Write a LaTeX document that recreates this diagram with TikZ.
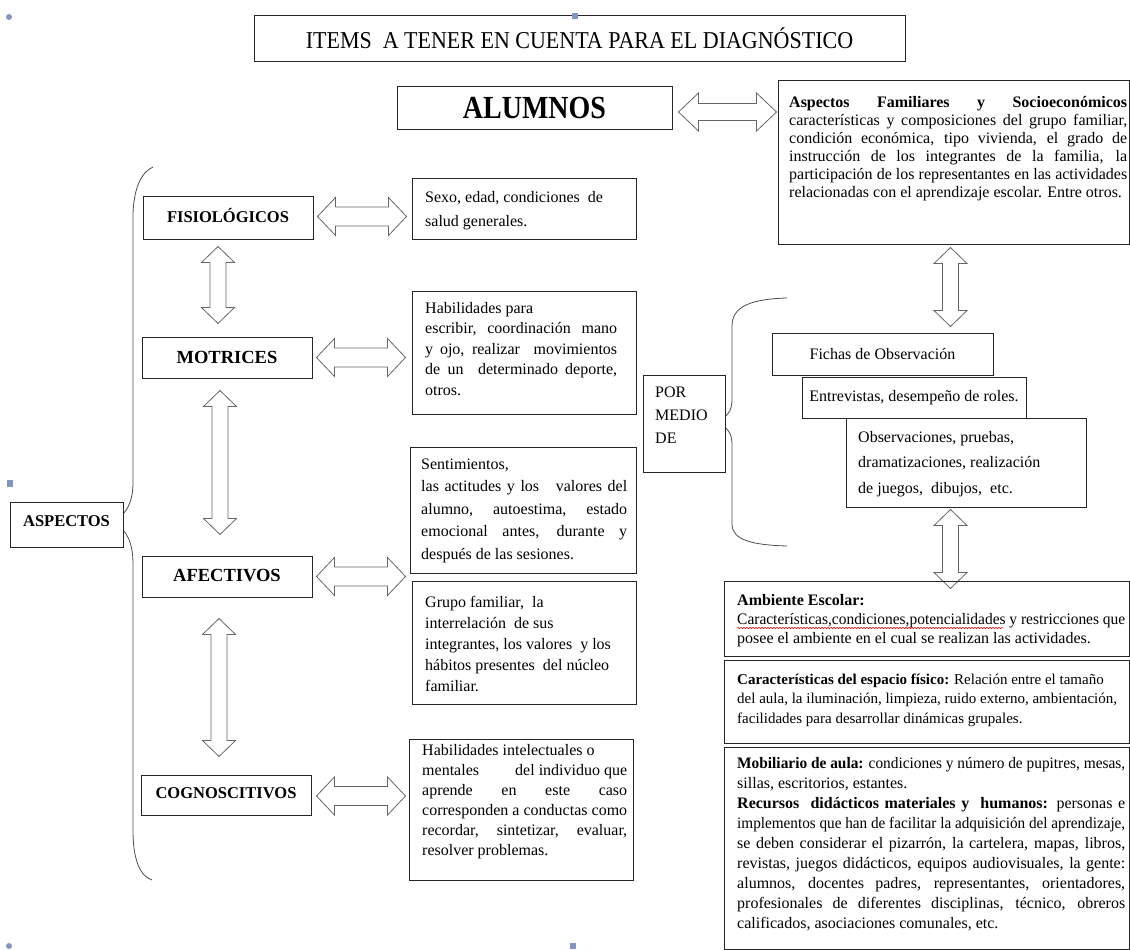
\documentclass[tikz,border=0pt]{standalone}
\usepackage{fontspec}
\setmainfont{Liberation Serif}
\usepackage{graphicx}
\usetikzlibrary{calc,decorations.pathmorphing}
\definecolor{handle}{RGB}{128,150,190}
\newsavebox\jlbox
\newcommand\nsp{\spaceskip=0pt\xspaceskip=0pt\relax}
\newcommand\jl[1]{\leavevmode\sbox\jlbox{\nsp#1}\ifdim\wd\jlbox>\hsize\resizebox{\hsize}{\height}{\usebox\jlbox}\else\makebox[\hsize][s]{\nsp#1}\fi}
\newcommand\fitline[1]{\leavevmode\sbox\jlbox{\nsp#1}\ifdim\wd\jlbox>\hsize\resizebox{\hsize}{\height}{\usebox\jlbox}\else\usebox\jlbox\fi}

\begin{document}
\begin{tikzpicture}[x=1pt,y=-1pt,
    box/.style={draw=black!85,line width=1pt,fill=white,inner sep=0pt},
    tag/.style={box,font=\bfseries\fontsize{#1}{#1}\selectfont},
    para/.style args={#1/#2}{anchor=base west,align=left,inner sep=0pt,font=\fontsize{#1}{#2}\selectfont},
    brace/.style={draw=black!70,line width=0.8pt},
    fat/.style n args={3}{draw=black!60,line width=0.8pt,fill=white,to path={(\tikztostart)
        -- ($(\tikztostart)!#1!(\tikztotarget)!#2!90:(\tikztotarget)$)
        -- ($(\tikztostart)!#1!(\tikztotarget)!#3!90:(\tikztotarget)$)
        -- ($(\tikztotarget)!#1!(\tikztostart)!#3!-90:(\tikztostart)$)
        -- ($(\tikztotarget)!#1!(\tikztostart)!#2!-90:(\tikztostart)$)
        -- (\tikztotarget)
        -- ($(\tikztotarget)!#1!(\tikztostart)!#2!90:(\tikztostart)$)
        -- ($(\tikztotarget)!#1!(\tikztostart)!#3!90:(\tikztostart)$)
        -- ($(\tikztostart)!#1!(\tikztotarget)!#3!-90:(\tikztotarget)$)
        -- ($(\tikztostart)!#1!(\tikztotarget)!#2!-90:(\tikztotarget)$)
        -- cycle}},
    fatH/.style={fat={18pt}{19pt}{9.5pt}},
    fatV/.style={fat={16pt}{16.5pt}{8pt}}]
    \useasboundingbox (0,0) rectangle (1130,950);

    \fill[handle] (9,17) circle (3pt);
    \fill[handle] (7,480) rectangle (13,487);
    \fill[handle] (9,946) circle (3pt);
    \fill[handle] (570,943) rectangle (576,949);

    \draw[brace] (153,167) .. controls (141,172) and (133,190) .. (133,217) -- (133,482)
        .. controls (133,502) and (127,514) .. (113,522) .. controls (127,530) and (133,542) .. (133,565)
        -- (133,830) .. controls (133,860) and (140,876) .. (152,880);
    \draw[brace] (787,298) .. controls (752,299) and (732,306) .. (732,326) -- (732,400)
        .. controls (732,410) and (728,417) .. (716,422) .. controls (728,427) and (732,434) .. (732,444)
        -- (732,524) .. controls (732,540) and (752,545) .. (787,546);

    \node[box,minimum width=651pt,minimum height=46pt,font=\fontsize{22}{22}\selectfont] (title) at (579.5,39) {\raisebox{2pt}{\scalebox{1}[1.1]{ITEMS\ \ A TENER EN CUENTA PARA EL DIAGNÓSTICO}}};
    \fill[handle] (572,13) rectangle (578,19);
    \node[box,minimum width=275pt,minimum height=42pt,font=\bfseries\fontsize{28}{28}\selectfont] (alumnos) at (534.5,108) {\raisebox{-4pt}{\scalebox{1}[1.15]{ALUMNOS}}};
    \node[box,minimum width=351pt,minimum height=163pt] (fam) at (953.5,162.5) {};
    \node[para=16/18,text width=338pt] (famtxt) at (789,107) {\nsp\jl{\textbf{Aspectos Familiares y Socioeconómicos}}\\
        \jl{características y composiciones del grupo familiar,}\\
        \jl{condición económica, tipo vivienda, el grado de}\\
        \jl{instrucción de los integrantes de la familia, la}\\
        \jl{participación de los representantes en las actividades}\\
        \fitline{relacionadas con el aprendizaje escolar. Entre otros.}};

    \node[tag=16.5,minimum width=113pt,minimum height=45pt] (aspectos) at (66.5,524.5) {\raisebox{6pt}{ASPECTOS}};
    \node[tag=16.5,minimum width=170pt,minimum height=43pt] (fisio) at (228,217.5) {\raisebox{4pt}{FISIOLÓGICOS}};
    \node[tag=18.5,minimum width=170pt,minimum height=41pt] (motr) at (227,357.5) {\raisebox{1pt}{MOTRICES}};
    \node[tag=18.5,minimum width=170pt,minimum height=41pt] (afec) at (227,576.5) {\raisebox{2pt}{AFECTIVOS}};
    \node[tag=16.5,minimum width=170pt,minimum height=40pt] (cogn) at (226,795) {\raisebox{3pt}{COGNOSCITIVOS}};

    \node[box,minimum width=224pt,minimum height=61pt] (sexo) at (524,208.5) {};
    \node[para=16/24,text width=205pt] (sexotxt) at (425,202) {\nsp Sexo, edad, condiciones\ \ de\\ salud generales.};
    \node[box,minimum width=224pt,minimum height=123pt] (habil) at (524,352.5) {};
    \node[para=16/20.5,text width=192pt] (habiltxt) at (425,313) {\nsp Habilidades para\\
        \jl{escribir,\ \ coordinación\ \ mano}\\
        \jl{y ojo, realizar\ \ movimientos}\\
        \jl{de un\ \ determinado deporte,}\\
        otros.};
    \node[box,minimum width=226pt,minimum height=126pt] (senti) at (523,510) {};
    \node[para=16/22.5,text width=206pt] (sentitxt) at (421,469) {\nsp Sentimientos,\\
        \jl{las actitudes y los\ \ \ valores del}\\
        \jl{alumno, autoestima, estado}\\
        \jl{emocional antes, durante y}\\
        después de las sesiones.};
    \node[box,minimum width=224pt,minimum height=123pt] (grupo) at (524,642.5) {};
    \node[para=16/21,text width=205pt] (grupotxt) at (425,607) {\nsp Grupo familiar,\ \ la\\
        interrelación\ \ de sus\\
        \fitline{integrantes, los valores\ \ y los}\\
        \fitline{hábitos presentes\ \ del núcleo}\\
        familiar.};
    \node[box,minimum width=224pt,minimum height=141pt] (habint) at (521,809.5) {};
    \node[para=16/20,text width=205pt] (habinttxt) at (422,755) {\nsp Habilidades intelectuales o\\
        \jl{mentales\hfill del individuo que}\\
        \jl{aprende en este caso}\\
        \jl{corresponden a conductas como}\\
        \jl{recordar, sintetizar, evaluar,}\\
        resolver problemas.};

    \node[box,minimum width=82pt,minimum height=97pt] (por) at (684,423.5) {};
    \node[para=16/23,text width=65pt] (portxt) at (655,397) {POR\\ MEDIO\\ DE};
    \node[box,minimum width=221pt,minimum height=42pt,font=\fontsize{16}{19}\selectfont] (fichas) at (882.5,354) {Fichas de Observación};
    \node[box,minimum width=224pt,minimum height=41pt,font=\fontsize{16}{19}\selectfont] (entrev) at (914,397.5) {Entrevistas, desempeño de roles.};
    \node[box,minimum width=240pt,minimum height=89pt] (obs) at (966,462.5) {};
    \node[para=16/25.5,text width=220pt] (obstxt) at (858,442) {\nsp Observaciones, pruebas,\\ dramatizaciones, realización\\ de juegos,\ \ dibujos,\ \ etc.};

    \node[box,minimum width=405pt,minimum height=83pt] (esp) at (926.5,701.5) {};
    \node[para=15/19.5,text width=388pt] (esptxt) at (737,684) {\fitline{\textbf{Características del espacio físico:} Relación entre el tamaño}\\
        \fitline{del aula, la iluminación, limpieza, ruido externo, ambientación,}\\
        \fitline{facilidades para desarrollar dinámicas grupales.}};
    \node[box,minimum width=405pt,minimum height=202pt] (mob) at (926.5,848) {};
    \node[para=16/20,text width=388pt] (mobtxt) at (737,768) {\nsp\jl{\textbf{Mobiliario de aula:} condiciones y número de pupitres, mesas,}\\
        sillas, escritorios, estantes.\\
        \jl{\textbf{Recursos\ \ didácticos materiales y\ \ humanos:} personas e}\\
        \jl{implementos que han de facilitar la adquisición del aprendizaje,}\\
        \jl{se deben considerar el pizarrón, la cartelera, mapas, libros,}\\
        \jl{revistas, juegos didácticos, equipos audiovisuales, la gente:}\\
        \jl{alumnos, docentes padres, representantes, orientadores,}\\
        \jl{profesionales de diferentes disciplinas, técnico, obreros}\\
        \fitline{calificados, asociaciones comunales, etc.}};

    \coordinate (la) at ($(alumnos.east)+(6,4)$);
    \coordinate (lb) at ($(alumnos.east -| fam.west)+(-1,4)$);
    \coordinate (fa) at ($(fisio.east)+(4,-1)$);
    \coordinate (fb) at ($(fisio.east -| sexo.west)+(-5,-1)$);
    \coordinate (ma) at ($(motr.east)+(4,0)$);
    \coordinate (mb) at ($(motr.east -| habil.west)+(-6,0)$);
    \coordinate (aa) at ($(afec.east)+(4,0)$);
    \coordinate (ab) at ($(afec.east -| senti.west)+(-4,0)$);
    \coordinate (ca) at ($(cogn.east)+(5,1)$);
    \coordinate (cb) at ($(cogn.east -| habint.west)+(-3,1)$);
    \coordinate (v1a) at ($(fisio.south)+(-10,7)$);
    \coordinate (v1b) at ($(motr.north)+(-9,-13)$);
    \coordinate (v2a) at ($(motr.south)+(-7,12)$);
    \coordinate (v2b) at ($(afec.north)+(-7,-21)$);
    \coordinate (v3a) at ($(afec.south)+(-8,21)$);
    \coordinate (v3b) at ($(cogn.north)+(-7,-18)$);
    \coordinate (v4a) at ($(fam.south)+(-3,3)$);
    \coordinate (v4b) at ($(v4a |- fichas.north)+(0,-6)$);
    \coordinate (v5a) at ($(v4a |- obs.south)+(0,2)$);
    \coordinate (v5b) at ($(v5a)+(0,79)$);

    \draw[fat={20pt}{19pt}{8.5pt}] (la) to (lb);
    \draw[fatH] (fa) to (fb);
    \draw[fatH] (ma) to (mb);
    \draw[fatH] (aa) to (ab);
    \draw[fatH] (ca) to (cb);
    \draw[fatV] (v1a) to (v1b);
    \draw[fatV] (v2a) to (v2b);
    \draw[fatV] (v3a) to (v3b);
    \draw[fatV] (v4a) to (v4b);
    \draw[fatV] (v5a) to (v5b);

    \node[box,fill=none,minimum width=405pt,minimum height=75pt] (amb) at (926.5,618.5) {};
    \node[para=16/19,text width=388pt] (ambtxt) at (737,605) {\nsp\textbf{Ambiente Escolar:}\\
        \jl{Características,condiciones,potencialidades y restricciones que}\\
        \fitline{posee el ambiente en el cual se realizan las actividades.}};
    \draw[red,line width=0.5pt,decorate,decoration={snake,amplitude=0.7pt,segment length=3pt}] (737,628) -- (1003,628);
\end{tikzpicture}
\end{document}
